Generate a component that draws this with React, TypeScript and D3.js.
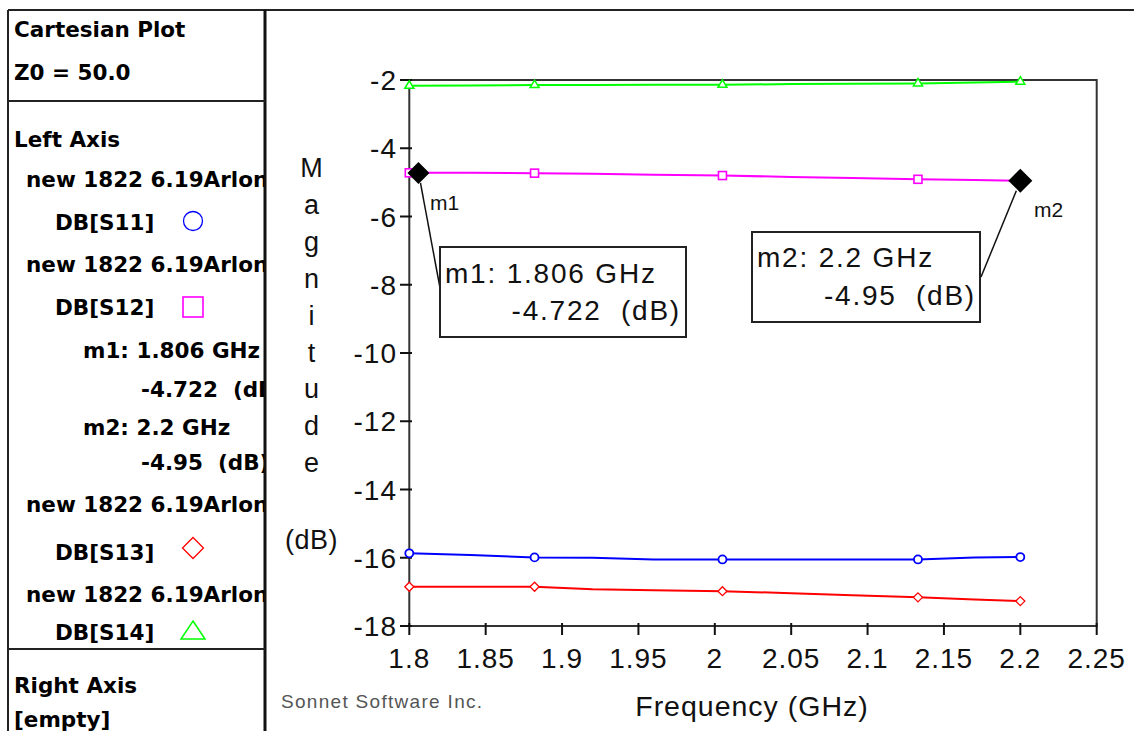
import React from "react";
import * as d3 from "d3";

// ---- data ----
const freqs = [1.8, 1.84, 1.882, 1.92, 1.96, 2.005, 2.05, 2.09, 2.133, 2.17, 2.2];
const s11 = [-15.87, -15.92, -15.99, -16.0, -16.05, -16.05, -16.05, -16.05, -16.05, -15.99, -15.98];
const s12 = [-4.72, -4.72, -4.73, -4.75, -4.78, -4.8, -4.84, -4.87, -4.91, -4.93, -4.95];
const s13 = [-16.85, -16.85, -16.85, -16.92, -16.95, -16.98, -17.04, -17.1, -17.16, -17.22, -17.27];
const s14 = [-2.17, -2.16, -2.15, -2.15, -2.14, -2.14, -2.12, -2.11, -2.1, -2.07, -2.05];
const symbolIdx = [0, 2, 5, 8, 10];

const traceNames = ["DB[S11]", "DB[S12]", "DB[S13]", "DB[S14]"];
const traceColors = ["#0000ff", "#ff00ff", "#ff0000", "#00ff00"];
const projectName = "new 1822 6.19Arlon";

const xTicks = [1.8, 1.85, 1.9, 1.95, 2.0, 2.05, 2.1, 2.15, 2.2, 2.25];
const yTicks = [-2, -4, -6, -8, -10, -12, -14, -16, -18];

const markerNames = ["m1", "m2"];
const markerFreqs = [1.806, 2.2];
const markerVals = [-4.722, -4.95];

const fmt = (v: number) => String(+v.toFixed(3));
const pre = { whiteSpace: "pre" as const };

export default function App() {
  const x = d3.scaleLinear().domain([1.8, 2.25]).range([409.3, 1096.7]);
  const y = d3.scaleLinear().domain([-18, -2]).range([626, 80]);
  const series = [s11, s12, s13, s14];
  const line = d3
    .line<number>()
    .x((_, i) => x(freqs[i]))
    .y((d) => y(d));

  const plotFont = "'Liberation Sans', Arial, sans-serif";
  const panelFont = "'DejaVu Sans', sans-serif";

  const symbol = (k: number, cx: number, cy: number, key: string) => {
    const c = traceColors[k];
    if (k === 0)
      return <circle key={key} cx={cx} cy={cy} r={4} fill="white" stroke={c} strokeWidth={1.8} />;
    if (k === 1)
      return <rect key={key} x={cx - 4} y={cy - 4} width={8} height={8} fill="white" stroke={c} strokeWidth={1.6} />;
    if (k === 2)
      return (
        <path key={key} d={`M${cx},${cy - 4.5}L${cx + 4.5},${cy}L${cx},${cy + 4.5}L${cx - 4.5},${cy}Z`} fill="white" stroke={c} strokeWidth={1.3} />
      );
    return (
      <path key={key} d={`M${cx},${cy - 5}L${cx + 4.5},${cy + 2.5}L${cx - 4.5},${cy + 2.5}Z`} fill="white" stroke={c} strokeWidth={1.5} />
    );
  };

  const legendSymbol = (k: number, cx: number, cy: number) => {
    const c = traceColors[k];
    if (k === 0) return <circle cx={cx} cy={cy} r={9.5} fill="none" stroke={c} strokeWidth={1.3} />;
    if (k === 1) return <rect x={cx - 10} y={cy - 10} width={20} height={20} fill="none" stroke={c} strokeWidth={1.6} />;
    if (k === 2)
      return <path d={`M${cx},${cy - 10.5}L${cx + 10.5},${cy}L${cx},${cy + 10.5}L${cx - 10.5},${cy}Z`} fill="none" stroke={c} strokeWidth={1.3} />;
    return <path d={`M${cx},${cy - 9}L${cx + 12},${cy + 9}L${cx - 12},${cy + 9}Z`} fill="none" stroke={c} strokeWidth={1.5} />;
  };

  const markerLines = markerNames.map((n, i) => [
    `${n}: ${fmt(markerFreqs[i])} GHz`,
    `${fmt(markerVals[i])}  (dB)`,
  ]);

  const m1 = { x: x(markerFreqs[0]), y: y(markerVals[0]) };
  const m2 = { x: x(markerFreqs[1]), y: y(markerVals[1]) };

  const diamond = (cx: number, cy: number, h: number) =>
    `M${cx},${cy - h}L${cx + h},${cy}L${cx},${cy + h}L${cx - h},${cy}Z`;

  return (
    <svg
      width={1134}
      height={731}
      style={{ position: "absolute", left: 0, top: 0, display: "block", background: "white" }}
    >
      <defs>
        <clipPath id="panelClip">
          <rect x={8} y={10} width={256} height={721} />
        </clipPath>
      </defs>

      {/* outer frame */}
      <line x1={8} y1={10} x2={1134} y2={10} stroke="#222" strokeWidth={2} />
      <line x1={8} y1={10} x2={8} y2={731} stroke="#222" strokeWidth={2} />
      <line x1={265} y1={10} x2={265} y2={731} stroke="#111" strokeWidth={3} />
      <line x1={8} y1={101} x2={265} y2={101} stroke="#222" strokeWidth={2} />
      <line x1={8} y1={649} x2={265} y2={649} stroke="#222" strokeWidth={2} />

      {/* left panel text */}
      <g clipPath="url(#panelClip)" fontFamily={panelFont} fontWeight="bold" fontSize={21.5} fill="#000">
        <text x={14} y={37}>Cartesian Plot</text>
        <text x={14} y={80}>Z0 = 50.0</text>
        <text x={14} y={147}>Left Axis</text>

        <text x={26} y={187}>{projectName}</text>
        <text x={55} y={230}>{traceNames[0]}</text>
        {legendSymbol(0, 193, 221)}

        <text x={26} y={272}>{projectName}</text>
        <text x={55} y={315}>{traceNames[1]}</text>
        {legendSymbol(1, 193, 307)}

        <text x={83} y={358} style={pre}>{markerLines[0][0]}</text>
        <text x={141} y={397} style={pre}>{markerLines[0][1]}</text>
        <text x={83} y={435} style={pre}>{markerLines[1][0]}</text>
        <text x={141} y={470} style={pre}>{markerLines[1][1]}</text>

        <text x={26} y={512}>{projectName}</text>
        <text x={55} y={560}>{traceNames[2]}</text>
        {legendSymbol(2, 193, 548)}

        <text x={26} y={602}>{projectName}</text>
        <text x={55} y={640}>{traceNames[3]}</text>
        {legendSymbol(3, 193, 630)}

        <text x={14} y={693}>Right Axis</text>
        <text x={14} y={727}>[empty]</text>
      </g>

      {/* plot frame */}
      <rect x={409.3} y={80} width={1096.7 - 409.3} height={546} fill="none" stroke="#333" strokeWidth={2} />

      {/* axes */}
      <g fontFamily={plotFont} fontSize={28} fill="#111" letterSpacing={1}>
        {yTicks.map((t) => (
          <g key={t}>
            <line x1={400} x2={412} y1={y(t)} y2={y(t)} stroke="#111" strokeWidth={2} />
            <text x={397} y={y(t) + 10} textAnchor="end">{String(t)}</text>
          </g>
        ))}
        {xTicks.map((t) => (
          <g key={t}>
            <line x1={x(t)} x2={x(t)} y1={623} y2={635} stroke="#111" strokeWidth={2} />
            <text x={x(t)} y={668} textAnchor="middle">{fmt(t)}</text>
          </g>
        ))}
        <text x={752} y={716} textAnchor="middle" fontSize={28.5}>Frequency (GHz)</text>
        {"Magnitude".split("").map((ch, i) => (
          <text key={i} x={311.5} y={177 + i * 36.9} textAnchor="middle" fontSize={27} letterSpacing={0}>
            {ch}
          </text>
        ))}
        <text x={311.5} y={549} textAnchor="middle" fontSize={27} letterSpacing={0.5}>(dB)</text>
      </g>

      <text x={281} y={708} fontFamily={plotFont} fontSize={19} fill="#555" letterSpacing={1.3}>
        Sonnet Software Inc.
      </text>

      {/* series */}
      {series.map((s, k) => (
        <path key={k} d={line(s) || ""} fill="none" stroke={traceColors[k]} strokeWidth={2} />
      ))}
      {series.map((s, k) => symbolIdx.map((i) => symbol(k, x(freqs[i]), y(s[i]), `${k}-${i}`)))}

      {/* marker leaders */}
      <line x1={m1.x + 2} y1={m1.y + 10} x2={440} y2={288} stroke="#111" strokeWidth={1.5} />
      <line x1={m2.x - 4} y1={m2.y + 10} x2={981} y2={277} stroke="#111" strokeWidth={1.5} />

      {/* markers */}
      <path d={diamond(m1.x, m1.y, 11)} fill="#000" />
      <path d={diamond(m2.x, m2.y, 12)} fill="#000" />
      <g fontFamily={plotFont} fontSize={21} fill="#111">
        <text x={430} y={210}>{markerNames[0]}</text>
        <text x={1034} y={217}>{markerNames[1]}</text>
      </g>

      {/* marker boxes */}
      <rect x={440} y={247} width={246} height={90} fill="white" stroke="#222" strokeWidth={2} />
      <rect x={752} y={232} width={228} height={90} fill="white" stroke="#222" strokeWidth={2} />
      <g fontFamily={plotFont} fontSize={28} fill="#111" letterSpacing={1.8}>
        <text x={445} y={283} style={pre}>{markerLines[0][0]}</text>
        <text x={681} y={320} textAnchor="end" style={pre}>{markerLines[0][1]}</text>
        <text x={757} y={267} style={pre}>{markerLines[1][0]}</text>
        <text x={976} y={305} textAnchor="end" style={pre}>{markerLines[1][1]}</text>
      </g>
    </svg>
  );
}
